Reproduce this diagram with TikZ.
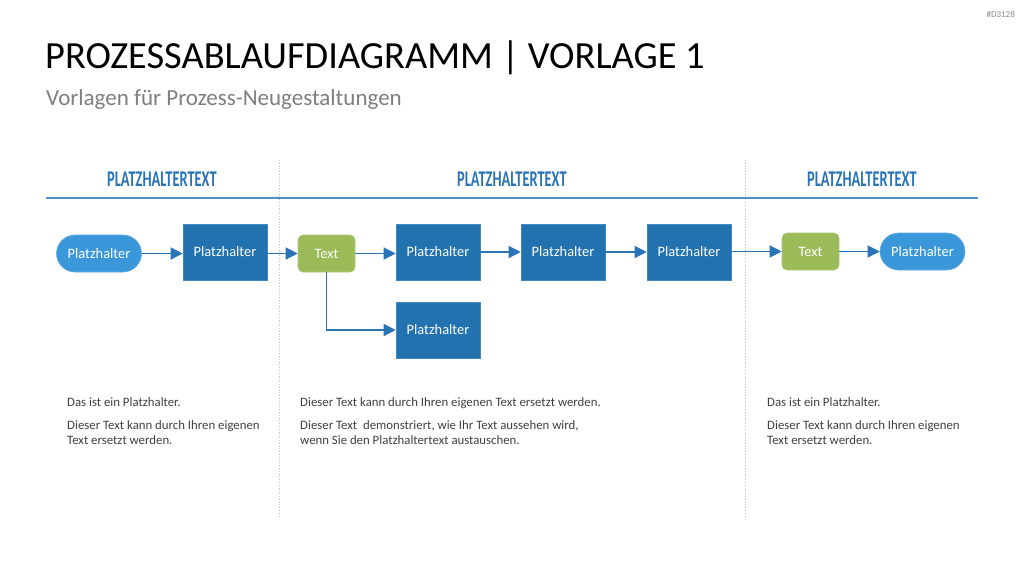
\documentclass[tikz,border=0pt]{standalone}
\usepackage{fontspec}
\setmainfont{Carlito}
\newfontfamily\hdrfont[FakeStretch=0.64]{Carlito}
\usetikzlibrary{arrows.meta}
\definecolor{dkblue}{HTML}{2272B0}
\definecolor{ltblue}{HTML}{3A97DA}
\definecolor{hdrblue}{HTML}{2A74B5}
\definecolor{lineblue}{HTML}{4A90D0}
\definecolor{grn}{HTML}{9BBB59}
\definecolor{subgray}{HTML}{7F7F7F}
\definecolor{txtgray}{HTML}{404040}
\tikzset{
  base/.style={text=white, font=\fontsize{14.4}{16}\selectfont, inner sep=0pt},
  pill/.style={base, fill=ltblue, draw=ltblue!80!white, line width=0.6pt, minimum width=85pt, minimum height=37pt, rounded corners=18.5pt},
  box/.style={base, fill=dkblue, draw=dkblue!85!white, line width=0.6pt, minimum width=84pt, minimum height=56pt},
  gbox/.style={base, fill=grn, draw=grn!80!white, line width=0.6pt, minimum width=57pt, minimum height=37pt, rounded corners=5pt},
  conn/.style={draw=hdrblue, line width=1.3pt, -{Triangle[length=12pt,width=12pt]}},
  hdr/.style={text=hdrblue, font=\hdrfont\bfseries\fontsize{22.5}{22}\selectfont, inner sep=0pt},
  body/.style={text=txtgray, font=\fontsize{12.8}{15}\selectfont, inner sep=0pt, anchor=north west, align=left},
  sep/.style={draw=black!25, line width=0.8pt, dotted}
}
\begin{document}
\begin{tikzpicture}[x=1pt,y=-1pt]
\useasboundingbox (0,0) rectangle (1024,576);
\fill[white] (0,0) rectangle (1024,576);

\node[anchor=base east, text=black!45, font=\fontsize{9}{9}\selectfont, inner sep=0pt] (code) at (1015,17) {\#D3128};
\node[anchor=base west, inner sep=0pt, font=\fontsize{38.4}{38}\selectfont, text=black] (title) at (45,68) {PROZESSABLAUFDIAGRAMM | VORLAGE 1};
\node[anchor=base west, inner sep=0pt, font=\fontsize{23}{23}\selectfont, text=subgray] (sub) at (46,105) {Vorlagen für Prozess-Neugestaltungen};

% headers
\node[hdr] (h1) at (162,179) {PLATZHALTERTEXT};
\node[hdr] (h2) at (512,179) {PLATZHALTERTEXT};
\node[hdr] (h3) at (862,179) {PLATZHALTERTEXT};
\coordinate (hl) at (46,198);
\coordinate (hr) at (978,198);
\draw[lineblue, line width=1.5pt] (hl) -- (hr);

% separators
\coordinate (s1t) at (279,160); \coordinate (s1b) at (279,517);
\coordinate (s2t) at (745,160); \coordinate (s2b) at (745,517);
\draw[sep] (s1t) -- (s1b);
\draw[sep] (s2t) -- (s2b);

% nodes
\node[pill] (p1) at (99,253.5) {Platzhalter};
\node[box]  (b1) at (225,252) {Platzhalter};
\node[gbox] (g1) at (326.5,253.5) {Text};
\node[box]  (b2) at (438,252) {Platzhalter};
\node[box]  (b3) at (563,252) {Platzhalter};
\node[box]  (b4) at (689,252) {Platzhalter};
\node[gbox] (g2) at (810.5,251.5) {Text};
\node[pill] (p2) at (922.5,251.5) {Platzhalter};
\node[box]  (b5) at (438,330) {Platzhalter};

% connectors
\draw[conn] (p1.east) -- (p1.east -| b1.west);
\draw[conn] (b1.east |- g1.west) -- (g1.west);
\draw[conn] (g1.east) -- (g1.east -| b2.west);
\draw[conn] (b2) -- (b3);
\draw[conn] (b3) -- (b4);
\draw[conn] (b4.east |- g2.west) -- (g2.west);
\draw[conn] (g2) -- (p2);
\draw[conn] (g1.south) |- (b5.west);

% body texts
\node[body] (t1) at (67,397) {Das ist ein Platzhalter.\\[8pt]Dieser Text kann durch Ihren eigenen\\Text ersetzt werden.};
\node[body] (t2) at (300,397) {Dieser Text kann durch Ihren eigenen Text ersetzt werden.\\[8pt]Dieser Text\ \ demonstriert, wie Ihr Text aussehen wird,\\wenn Sie den Platzhaltertext austauschen.};
\node[body] (t3) at (767,397) {Das ist ein Platzhalter.\\[8pt]Dieser Text kann durch Ihren eigenen\\Text ersetzt werden.};
\end{tikzpicture}
\end{document}
